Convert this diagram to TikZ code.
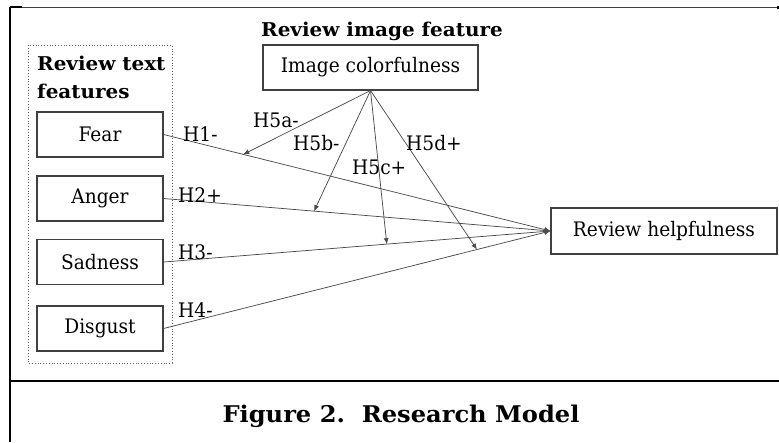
\documentclass[tikz,border=0pt]{standalone}
\usepackage{fontspec}
\setmainfont{DejaVu Serif}[FakeStretch=0.93]
\newfontfamily\headfont{DejaVu Serif}[FakeStretch=1.05]
\usetikzlibrary{arrows.meta,calc}
\begin{document}
\begin{tikzpicture}[x=1pt,y=-1pt,
  box/.style={draw=black!75,line width=1.1pt,minimum height=45pt,inner sep=0pt,font=\fontsize{20}{22}\selectfont},
  lbl/.style={anchor=west,inner sep=0pt,font=\fontsize{20}{22}\selectfont},
  head/.style={inner sep=0pt,font=\headfont\bfseries\fontsize{19}{22}\selectfont},
  link/.style={draw=black!70,line width=0.75pt,-{Latex[length=6pt,width=5pt]}},
  frame/.style={line width=2.4pt,black},
]
\useasboundingbox (0,0) rectangle (779,442);
% outer frame
\draw[frame] (10,7) -- (10,442);
\draw[frame] (10,7) -- (22,7);
\draw[black!75,line width=1pt] (22,7) -- (777,7);
\fill[black] (776.5,6) rectangle (779,9);
\draw[frame] (10,381) -- (779,381);
% dotted group
\draw[black!60,line width=0.8pt,dotted] (28,45) rectangle (172,363);
% headings
\node[head,anchor=base] (ttl) at (382,36) {Review image feature};
\node[head,anchor=base west] (tf1) at (37,70) {Review text};
\node[head,anchor=base west] (tf2) at (37,98) {features};
% boxes
\node[box,minimum width=126pt] (fear) at (100,134.5) {Fear};
\node[box,minimum width=126pt] (anger) at (100,198.5) {Anger};
\node[box,minimum width=126pt] (sad) at (100,262) {Sadness};
\node[box,minimum width=126pt] (disg) at (100,328.5) {Disgust};
\node[box,minimum width=215pt] (img) at (370.5,67.5) {Image colorfulness};
\node[box,minimum width=226pt,minimum height=46pt] (help) at (664,231) {Review helpfulness};
% main paths
\draw[link] (fear.east) -- (help.west);
\draw[link] (anger.east) -- (help.west);
\draw[link] (sad.east) -- (help.west);
\draw[link] (disg.east) -- (help.west);
% moderation
\coordinate (m1) at ($(fear.east)!0.206!(help.west)$);
\coordinate (m2) at ($(anger.east)!0.389!(help.west)$);
\coordinate (m3) at ($(sad.east)!0.577!(help.west)$);
\coordinate (m4) at ($(disg.east)!0.81!(help.west)$);
\draw[link] (img.south) -- (m1);
\draw[link] (img.south) -- (m2);
\draw[link] (img.south) -- (m3);
\draw[link] (img.south) -- (m4);
% labels
\node[lbl] (h1) at (183,134) {H1-};
\node[lbl] (h2) at (178,195) {H2+};
\node[lbl] (h3) at (178,252) {H3-};
\node[lbl] (h4) at (178,310) {H4-};
\node[lbl] (h5a) at (253,120) {H5a-};
\node[lbl] (h5b) at (293,143) {H5b-};
\node[lbl] (h5c) at (352,167) {H5c+};
\node[lbl] (h5d) at (406,143) {H5d+};
% caption
\node[inner sep=0pt,anchor=base,font=\headfont\bfseries\fontsize{23}{26}\selectfont] (cap) at (401,422) {Figure 2.\ \ Research Model};
\end{tikzpicture}
\end{document}
